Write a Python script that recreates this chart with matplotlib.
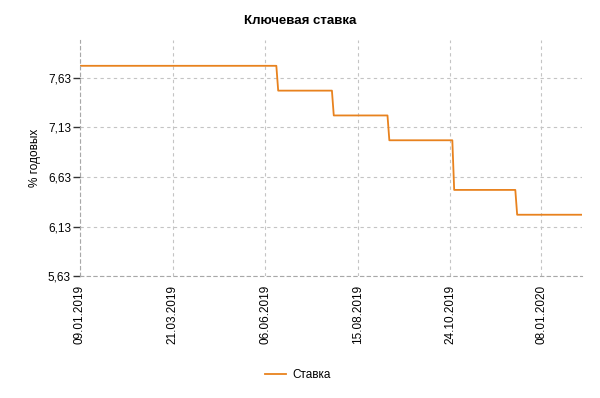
import numpy as np
import pandas as pd
import matplotlib.pyplot as plt

plt.rcParams['font.family'] = ['Liberation Sans', 'DejaVu Sans']

# key rate decisions: date from which the rate applies
change_dates = pd.to_datetime(['2019-01-09', '2019-06-17', '2019-07-29', '2019-09-09',
                               '2019-10-28', '2019-12-16'])
change_rates = [7.75, 7.50, 7.25, 7.00, 6.50, 6.25]

# the source series has one point per working day
start, end = '2019-01-09', '2020-02-07'
holidays = ['2019-03-08', '2019-05-01', '2019-05-02', '2019-05-03', '2019-05-09',
            '2019-05-10', '2019-11-04', '2020-01-01', '2020-01-02', '2020-01-03',
            '2020-01-07']

tick_labels = ['09.01.2019', '21.03.2019', '06.06.2019', '15.08.2019',
               '24.10.2019', '08.01.2020']
y_ticks = [5.63, 6.13, 6.63, 7.13, 7.63]

days = pd.bdate_range(start, end)
days = days[~days.isin(pd.to_datetime(holidays))]
rate = pd.Series(change_rates, index=change_dates).reindex(days, method='ffill')
idx = np.arange(len(days))

line_color = '#e8821e'

fig = plt.figure(figsize=(6, 3.98), dpi=100)
ax = fig.add_axes([0.1333, 0.3058, 0.8367, 0.5937])

ax.plot(idx, rate.values, color=line_color, lw=1.3, label='Ставка')

ax.set_xlim(0, idx[-1])
ax.set_ylim(5.63, 8.01)
ax.set_yticks(y_ticks)
ax.set_yticklabels([f'{v:.2f}'.replace('.', ',') for v in y_ticks])
tick_pos = [days.get_loc(pd.to_datetime(t, dayfirst=True)) for t in tick_labels]
ax.set_xticks(tick_pos)
ax.set_xticklabels(tick_labels, rotation=90)

ax.grid(True, color='#c4c4c4', ls=(0, (3, 3)), lw=0.8)
for s in ['top', 'right']:
    ax.spines[s].set_visible(False)
for s in ['left', 'bottom']:
    ax.spines[s].set_color('#a8a8a8')
    ax.spines[s].set_linestyle((0, (3, 3)))
    ax.spines[s].set_linewidth(0.8)
ax.tick_params(axis='y', length=5, width=1, color='#333333', labelsize=8.5, pad=1.5)
ax.tick_params(axis='x', length=0, labelsize=8.5, pad=6)

ax.set_ylabel('% годовых', fontsize=8.5, labelpad=5)
fig.suptitle('Ключевая ставка', y=0.962, fontsize=9.5, fontweight='bold')

fig.legend(loc='center', bbox_to_anchor=(0.497, 0.057), frameon=False, fontsize=8.5,
           handlelength=1.7, handletextpad=0.6)

fig.savefig('out.png', dpi=100)
